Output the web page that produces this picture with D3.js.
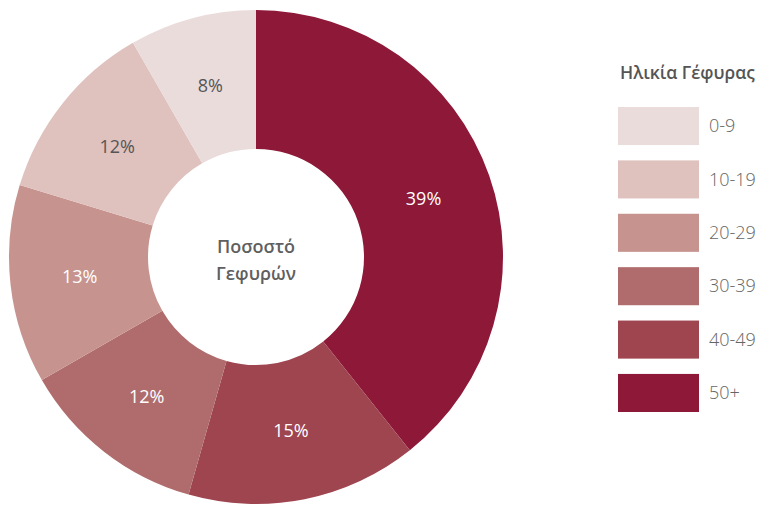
<!DOCTYPE html>
<html>
<head>
    <meta charset="utf-8">
    <title>Ηλικία Γέφυρας</title>
    <style>
        body {
            margin: 0;
            background: #fff;
            font-family: 'Open Sans', 'Noto Sans', sans-serif;
        }
        svg {
            display: block;
        }
        .slice-label {
            font-size: 18px;
            font-weight: 500;
        }
        .center-label {
            font-size: 18px;
            font-weight: 600;
            fill: #5f5f5f;
        }
        .legend-title {
            font-size: 17.5px;
            font-weight: 600;
            fill: #555;
        }
        .legend-label {
            font-size: 18px;
            font-weight: 300;
            fill: #666;
        }
    </style>
</head>
<body>
    <svg width="762" height="506"></svg>

<script src="https://d3js.org/d3.v7.min.js"></script>
<script>

    // age groups, drawn clockwise from 12 o'clock starting with 50+
    let categories = ['50+', '40-49', '30-39', '20-29', '10-19', '0-9'];
    let values = [39.3, 15.1, 12.3, 13.0, 12.0, 8.3];
    let colors = ['#8e1838', '#9e4550', '#b06c6c', '#c6938f', '#dfc1be', '#ebdcdc'];
    let labelColors = ['#fff', '#fff', '#fff', '#fff', '#555', '#555'];

    // legend reads top to bottom from the youngest group
    let legendOrder = ['0-9', '10-19', '20-29', '30-39', '40-49', '50+'];

    let svg = d3.select('svg');

    let cx = 256, cy = 257;
    let outerR = 247, innerR = 108;

    let data = categories.map((c, i) => ({ cat: c, value: values[i] }));

    let color = d3.scaleOrdinal()
        .domain(categories)
        .range(colors);

    let labelColor = d3.scaleOrdinal()
        .domain(categories)
        .range(labelColors);

    let pie = d3.pie()
        .value(d => d.value)
        .sort(null);

    let arc = d3.arc()
        .innerRadius(innerR)
        .outerRadius(outerR);

    let g = svg.append('g')
        .attr('transform', `translate(${cx},${cy})`);

    let arcs = pie(data);

    g.selectAll('path')
        .data(arcs)
        .join('path')
        .attr('fill', d => color(d.data.cat))
        .attr('d', arc);

    g.selectAll('.slice-label')
        .data(arcs)
        .join('text')
        .attr('class', 'slice-label')
        .attr('transform', d => `translate(${arc.centroid(d)})`)
        .attr('text-anchor', 'middle')
        .attr('dy', '0.35em')
        .attr('fill', d => labelColor(d.data.cat))
        .text(d => d3.format('.0f')(d.data.value) + '%');

    // text in the hole
    g.append('text')
        .attr('class', 'center-label')
        .attr('text-anchor', 'middle')
        .attr('y', -4)
        .text('Ποσοστό');

    g.append('text')
        .attr('class', 'center-label')
        .attr('text-anchor', 'middle')
        .attr('y', 23)
        .text('Γεφυρών');

    // legend
    let legendY = d3.scaleBand()
        .domain(legendOrder)
        .range([107, 412])
        .paddingInner(0.287);

    let legend = svg.append('g');

    legend.append('text')
        .attr('class', 'legend-title')
        .attr('x', 620)
        .attr('y', 79)
        .text('Ηλικία Γέφυρας');

    legend.selectAll('rect')
        .data(legendOrder)
        .join('rect')
        .attr('x', 618)
        .attr('y', d => legendY(d))
        .attr('width', 81)
        .attr('height', legendY.bandwidth())
        .attr('fill', d => color(d));

    legend.selectAll('.legend-label')
        .data(legendOrder)
        .join('text')
        .attr('class', 'legend-label')
        .attr('x', 709)
        .attr('y', d => legendY(d) + legendY.bandwidth() / 2)
        .attr('dy', '0.35em')
        .text(d => d);

</script>
</body>
</html>
